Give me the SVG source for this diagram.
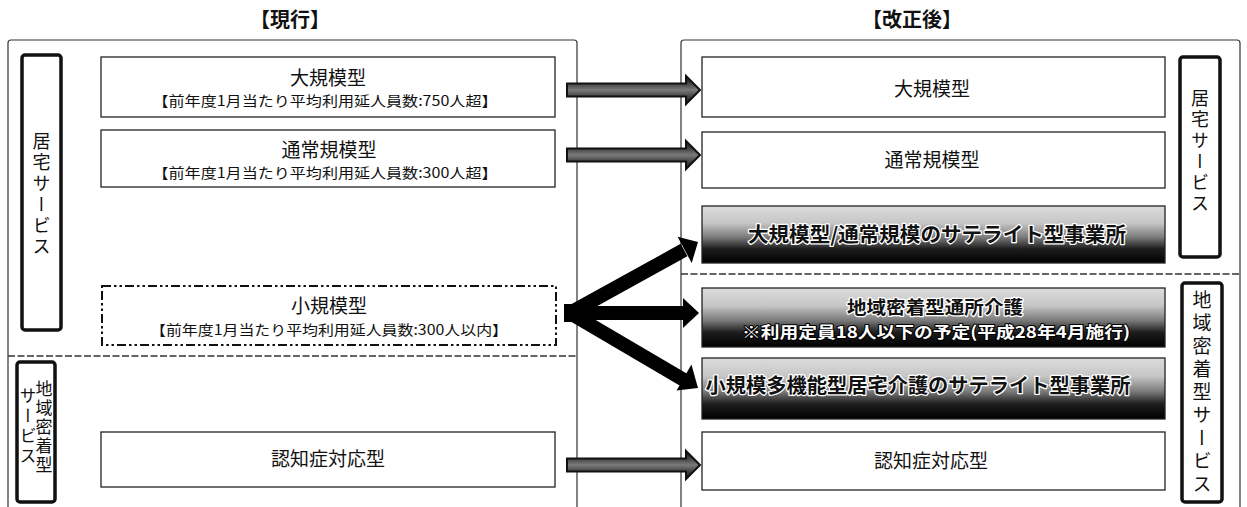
<svg xmlns="http://www.w3.org/2000/svg" width="1247" height="507" viewBox="0 0 1247 507">
<defs>
<linearGradient id="gr" x1="0" y1="0" x2="0" y2="1">
<stop offset="0" stop-color="#dcdcdc"/>
<stop offset="0.3" stop-color="#c6c6c6"/>
<stop offset="0.55" stop-color="#7a7a7a"/>
<stop offset="0.75" stop-color="#1e1e1e"/>
<stop offset="1" stop-color="#000"/>
</linearGradient>
<linearGradient id="ga" x1="0" y1="0" x2="0" y2="1">
<stop offset="0" stop-color="#111"/>
<stop offset="0.3" stop-color="#4a4a4a"/>
<stop offset="0.5" stop-color="#7a7a7a"/>
<stop offset="0.7" stop-color="#4a4a4a"/>
<stop offset="1" stop-color="#111"/>
</linearGradient>
</defs>
<style>
.t{font-family:"Noto Sans CJK JP","Noto Sans CJK SC",sans-serif;fill:#111}
.box{fill:#fff;stroke:#222;stroke-width:1.3}
.gbox{fill:url(#gr);stroke:#222;stroke-width:1.3}
.lbl{fill:#fff;stroke:#111;stroke-width:3.5}
.frame{fill:none;stroke:#333;stroke-width:1.2}
.sep{stroke:#333;stroke-width:1.6;stroke-dasharray:7 2.5;fill:none}
.vt{writing-mode:vertical-rl;text-anchor:middle;font-size:18px}
.hd{font-size:20px;font-weight:bold;text-anchor:middle}
.h{font-size:19px;text-anchor:middle}
.s{font-size:14px;text-anchor:middle}
.g{font-size:20px;font-weight:bold;text-anchor:middle;stroke:#fff;stroke-width:2.5;paint-order:stroke;stroke-linejoin:round}
.gw{font-size:16px;font-weight:bold;text-anchor:middle;fill:#fff;stroke:#000;stroke-width:2;paint-order:stroke;stroke-linejoin:round}
.ga{fill:url(#ga);stroke:#111;stroke-width:2}
.ba{stroke:#000;stroke-width:14;fill:none}
</style>

<g id="headers">
<text class="t hd" x="290" y="27">【現行】</text>
<text class="t hd" x="912" y="27">【改正後】</text>
</g>

<g id="frames">
<path class="frame" d="M8,507 V43 Q8,40 11,40 H574 Q577,40 577,43 V507"/>
<line class="sep" x1="8" y1="356" x2="577" y2="356"/>
<path class="frame" d="M681,507 V43 Q681,40 684,40 H1237 Q1240,40 1240,43 V507"/>
<line class="sep" x1="681" y1="274" x2="1240" y2="274"/>
</g>

<g id="lbl-left-kyotaku">
<rect class="lbl" x="22" y="55" width="39" height="275" rx="3"/>
<text class="t vt" x="41.5" y="195" letter-spacing="3">居宅サービス</text>
</g>
<g id="lbl-left-chiiki">
<rect class="lbl" x="17" y="362" width="38" height="140" rx="3"/>
<text class="t vt" x="44" y="428" letter-spacing="2" style="font-size:17px">地域密着型</text>
<text class="t vt" x="28" y="427" letter-spacing="3" style="font-size:17px">サービス</text>
</g>

<g id="cur-large">
<rect class="box" x="101" y="57" width="454" height="60"/>
<text class="t h" x="328" y="85">大規模型</text>
<text class="t s" x="325" y="106" textLength="345" lengthAdjust="spacingAndGlyphs">【前年度1月当たり平均利用延人員数:750人超】</text>
</g>
<g id="cur-normal">
<rect class="box" x="101" y="130" width="454" height="57"/>
<text class="t h" x="329" y="157">通常規模型</text>
<text class="t s" x="325" y="178" textLength="345" lengthAdjust="spacingAndGlyphs">【前年度1月当たり平均利用延人員数:300人超】</text>
</g>
<g id="cur-small">
<rect x="102" y="286" width="454" height="59" fill="#fff" stroke="#111" stroke-width="2" stroke-dasharray="9 3 2.5 3 2.5 3"/>
<text class="t h" x="329" y="313">小規模型</text>
<text class="t s" x="329" y="335" textLength="358" lengthAdjust="spacingAndGlyphs">【前年度1月当たり平均利用延人員数:300人以内】</text>
</g>
<g id="cur-dementia">
<rect class="box" x="101" y="432" width="454" height="55"/>
<text class="t h" x="328" y="466">認知症対応型</text>
</g>

<g id="new-large">
<rect class="box" x="702" y="57" width="463" height="60"/>
<text class="t h" x="932" y="96">大規模型</text>
</g>
<g id="new-normal">
<rect class="box" x="702" y="132" width="463" height="56"/>
<text class="t h" x="932" y="167">通常規模型</text>
</g>
<g id="new-satellite">
<rect class="gbox" x="702" y="206" width="463" height="57"/>
<text class="t g" x="937" y="242" textLength="378" lengthAdjust="spacingAndGlyphs">大規模型/通常規模のサテライト型事業所</text>
</g>
<g id="new-chiiki-tsusho">
<rect class="gbox" x="702" y="288" width="463" height="59"/>
<text class="t g" x="935" y="314" textLength="176" lengthAdjust="spacingAndGlyphs" style="font-size:18px">地域密着型通所介護</text>
<text class="t gw" x="936" y="338" textLength="388" lengthAdjust="spacingAndGlyphs">※利用定員18人以下の予定(平成28年4月施行)</text>
</g>
<g id="new-shokibo-satellite">
<rect class="gbox" x="702" y="358" width="463" height="61"/>
<text class="t g" x="918" y="393" textLength="425" lengthAdjust="spacingAndGlyphs">小規模多機能型居宅介護のサテライト型事業所</text>
</g>
<g id="new-dementia">
<rect class="box" x="702" y="432" width="463" height="58"/>
<text class="t h" x="931" y="468">認知症対応型</text>
</g>

<g id="lbl-right-kyotaku">
<rect class="lbl" x="1180" y="57" width="40" height="200" rx="3"/>
<text class="t vt" x="1200" y="152" letter-spacing="3">居宅サービス</text>
</g>
<g id="lbl-right-chiiki">
<rect class="lbl" x="1182" y="283" width="40" height="219" rx="3"/>
<text class="t vt" x="1202" y="394" letter-spacing="4" style="font-size:19px">地域密着型サービス</text>
</g>

<g id="connectors">
<path class="ga" d="M567,83.5 H686 V76 L700,90 L686,104 V96.5 H567 Z"/>
<path class="ga" d="M567,148.5 H686 V141 L700,155 L686,169 V161.5 H567 Z"/>
<path class="ga" d="M567,458.5 H686 V451 L700,465 L686,479 V471.5 H567 Z"/>
<rect x="564" y="304" width="12" height="18" fill="#000"/>
<line class="ba" x1="570" y1="313" x2="684" y2="250"/>
<line class="ba" x1="570" y1="313" x2="684" y2="313"/>
<line class="ba" x1="570" y1="313" x2="684" y2="380"/>
<polygon points="698,242 677.6,236.7 691.7,263.1" fill="#000"/>
<polygon points="699,313 683,298 683,328" fill="#000"/>
<polygon points="698,388 676.6,390.6 691.4,364.5" fill="#000"/>
</g>
</svg>
